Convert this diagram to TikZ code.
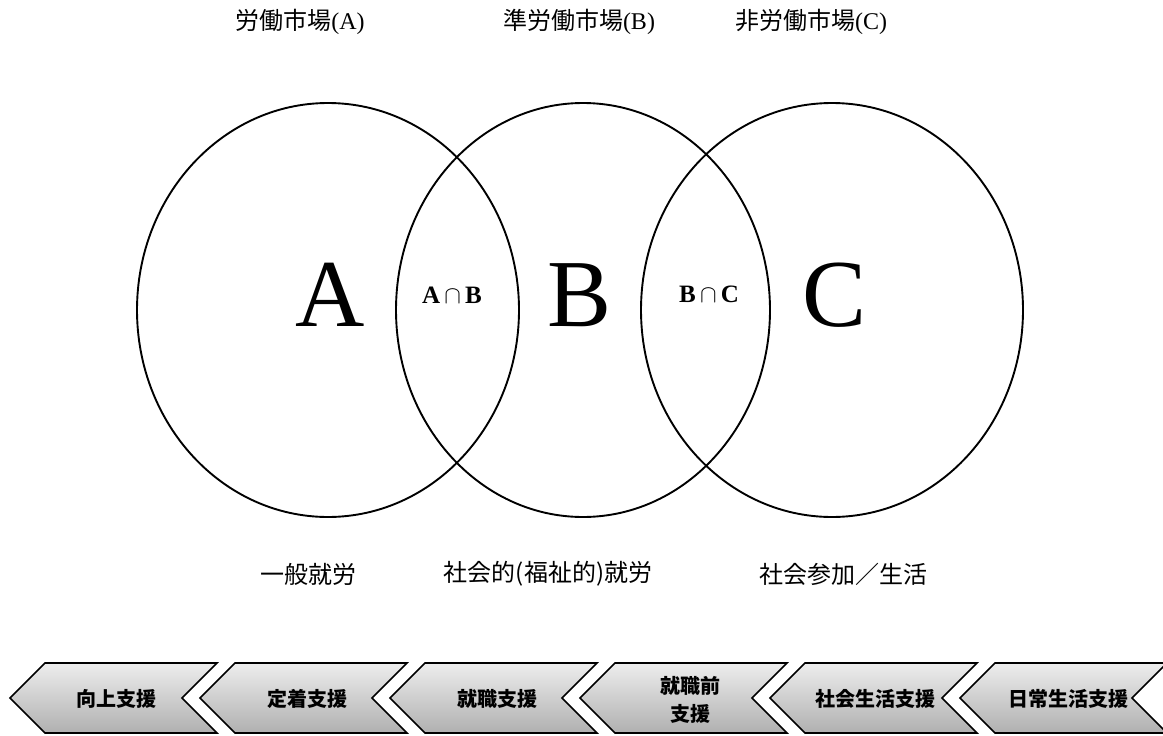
\documentclass[tikz,border=0pt]{standalone}
\usepackage{fontspec}
\setmainfont{Liberation Serif}
\newfontfamily\jp{Noto Sans CJK JP}
\usetikzlibrary{shapes.geometric}
\begin{document}
\begin{tikzpicture}[x=1pt,y=-1pt,
  venn/.style={draw, ellipse, line width=1.9pt, minimum width=382pt, minimum height=414pt, inner sep=0pt},
  big/.style={font=\fontsize{96}{96}\selectfont},
  inter/.style={font=\fontsize{25}{25}\selectfont\bfseries},
  lab/.style={font=\fontsize{24}{24}\selectfont\jp},
  chev/.style={draw, line width=1.6pt, line join=miter, top color=gray!14, bottom color=gray!62},
  chevtext/.style={font=\fontsize{20}{24}\selectfont\jp\bfseries, align=center}]
\useasboundingbox (0,0) rectangle (1163,736);
% Venn ellipses
\node[venn] (cA) at (328,310) {};
\node[venn, minimum width=374pt] (cB) at (583,310) {};
\node[venn] (cC) at (832,310) {};
% big letters
\node[big] (lA) at (330,295) {A};
\node[big] (lB) at (580,295) {B};
\node[big] (lC) at (835,295) {C};
\node[inter] (lAB) at (452,295) {A\,$\cap$\,B};
\node[inter] (lBC) at (709,294) {B\,$\cap$\,C};
% top labels
\node[lab] (tA) at (300,22) {労働市場{\rmfamily(A)}};
\node[lab] (tB) at (579,22) {準労働市場{\rmfamily(B)}};
\node[lab] (tC) at (811,22) {非労働市場{\rmfamily(C)}};
% bottom labels
\node[lab] (bA) at (308,574) {一般就労};
\node[lab] (bB) at (548,574) {社会的(福祉的)就労};
\node[lab] (bC) at (843,574) {社会参加／生活};
% chevrons
\foreach \t in {10,200,390,580,770,960}{
  \path[chev] (\t,698) -- (\t+35,663) -- (\t+207,663) -- (\t+172,698) -- (\t+207,733) -- (\t+35,733) -- cycle;
}
\node[chevtext] (s1) at (116,699) {向上支援};
\node[chevtext] (s2) at (307,699) {定着支援};
\node[chevtext] (s3) at (497,699) {就職支援};
\node[chevtext] (s4) at (690,700) {就職前\\[4pt]支援};
\node[chevtext] (s5) at (875,699) {社会生活支援};
\node[chevtext] (s6) at (1068,699) {日常生活支援};
\end{tikzpicture}
\end{document}
